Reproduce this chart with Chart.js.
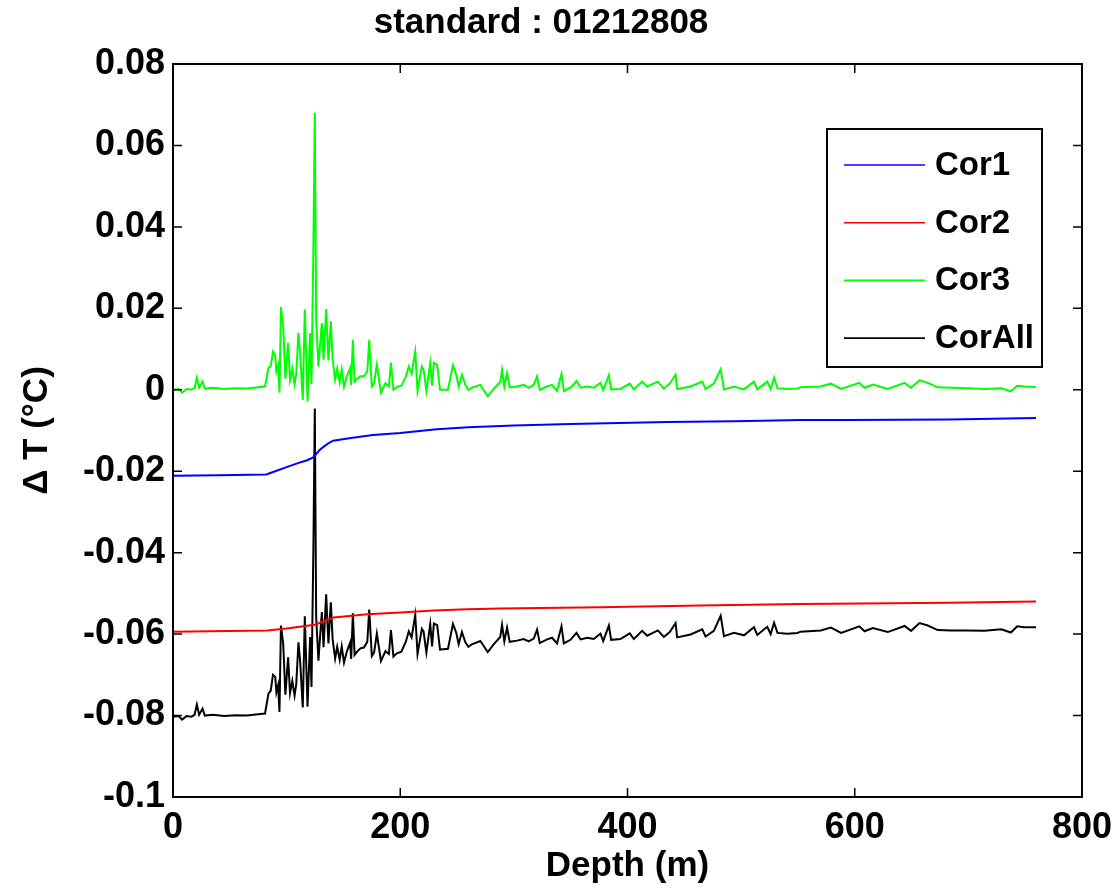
<!DOCTYPE html>
<html>
<head>
<meta charset="utf-8">
<script src="https://cdn.jsdelivr.net/npm/chart.js@4.4.1/dist/chart.umd.min.js"></script>
<style>
  body { margin: 0; background: #fff; }
</style>
</head>
<body>
<canvas id="myChart" width="1112" height="888"></canvas>
<script>
// depth (m) for the noisy series
var depthNoisy = [0, 5, 8, 12, 16, 19, 21, 23, 26, 28,
    35, 45, 55, 65, 75, 81, 84, 86, 88, 90,
    91, 92.5, 93.7, 95, 97, 98.9, 101.3, 103, 105, 107,
    108.5, 110.4, 111.9, 114.2, 116, 118.4, 120.7, 121.9, 123.6, 124.8,
    126, 128, 129.5, 131, 132.5, 134.8, 136.8, 138.9, 140.5, 142.7,
    144.5, 146.7, 148.5, 150.5, 153, 155.9, 156.8, 158.3, 159.8, 162,
    165, 168, 171, 172.7, 175, 177, 179.4, 183, 187, 190,
    191.8, 194, 197, 201, 205, 207.5, 210, 213.2, 215.2, 219,
    220.5, 223, 226.4, 228, 229.6, 232.5, 235, 238, 242, 246.4,
    249.3, 251.4, 254.3, 257.3, 260, 263, 270.5, 277, 282.2, 288,
    289.6, 291.6, 294, 296.3, 302.8, 308.7, 313, 317.5, 320.4, 322.8,
    329.2, 333.6, 338, 341.9, 344, 349.8, 355.1, 358.7, 364.5, 370.3,
    376.2, 378.6, 383.6, 385.6, 393.8, 402, 405.6, 412.9, 417.3, 426.7,
    432, 437.2, 442.3, 443.7, 455.5, 465.8, 468.7, 476, 482, 484.9,
    493.7, 502.5, 511.3, 514.2, 523, 526, 529, 532, 540.7, 549.5,
    552.4, 570, 579, 588, 604, 608.6, 616, 629, 643.8, 649.6,
    657, 664.3, 673, 685, 699.6, 714, 729, 737.4, 743, 749,
    759.5];

var cor3 = [0.0000, 0.0002, -0.0007, 0.0002, 0.0000, 0.0005, 0.0030, 0.0005, 0.0020, 0.0003,
    0.0005, 0.0002, 0.0004, 0.0003, 0.0006, 0.0008, 0.0054, 0.0058, 0.0094, 0.0085,
    0.0045, 0.0060, -0.0007, 0.0203, 0.0156, 0.0027, 0.0115, 0.0025, 0.0052, 0.0013,
    0.0040, 0.0140, 0.0091, -0.0025, 0.0197, -0.0029, 0.0139, 0.0014, 0.0360, 0.0680,
    0.0172, 0.0057, 0.0112, 0.0164, 0.0074, 0.0198, 0.0072, 0.0168, 0.0074, 0.0025,
    0.0052, 0.0018, 0.0050, 0.0008, 0.0033, 0.0053, 0.0012, 0.0123, 0.0020, 0.0027,
    0.0033, 0.0033, 0.0045, 0.0123, 0.0008, 0.0016, 0.0061, -0.0007, 0.0016, 0.0008,
    0.0066, 0.0000, 0.0007, 0.0010, 0.0033, 0.0057, 0.0040, 0.0094, -0.0003, 0.0057,
    0.0050, -0.0003, 0.0066, 0.0010, 0.0066, 0.0061, 0.0000, 0.0000, 0.0000, 0.0060,
    0.0037, 0.0008, 0.0037, 0.0012, 0.0000, 0.0005, 0.0012, -0.0016, 0.0002, 0.0019,
    0.0049, 0.0008, 0.0041, 0.0006, 0.0008, 0.0012, 0.0005, 0.0012, 0.0033, 0.0000,
    0.0008, 0.0012, -0.0003, 0.0039, -0.0003, 0.0005, 0.0021, 0.0005, 0.0008, 0.0005,
    0.0017, -0.0001, 0.0036, 0.0001, 0.0002, 0.0015, 0.0001, 0.0020, 0.0008, 0.0020,
    0.0003, 0.0015, 0.0037, 0.0002, 0.0008, 0.0020, 0.0002, 0.0015, 0.0051, 0.0001,
    0.0008, 0.0001, 0.0020, 0.0001, 0.0020, 0.0002, 0.0030, 0.0004, 0.0002, 0.0003,
    0.0006, 0.0008, 0.0015, 0.0002, 0.0017, 0.0005, 0.0013, 0.0002, 0.0017, 0.0005,
    0.0023, 0.0017, 0.0006, 0.0005, 0.0004, 0.0002, 0.0004, -0.0004, 0.0010, 0.0008,
    0.0007];

var corAll = [-0.0803, -0.0801, -0.0810, -0.0801, -0.0803, -0.0798, -0.0773, -0.0798, -0.0783, -0.0800,
    -0.0798, -0.0801, -0.0799, -0.0800, -0.0797, -0.0795, -0.0746, -0.0739, -0.0700, -0.0705,
    -0.0743, -0.0726, -0.0791, -0.0579, -0.0623, -0.0749, -0.0657, -0.0745, -0.0715, -0.0751,
    -0.0722, -0.0620, -0.0667, -0.0780, -0.0556, -0.0778, -0.0607, -0.0730, -0.0378, -0.0046,
    -0.0558, -0.0665, -0.0603, -0.0546, -0.0632, -0.0502, -0.0623, -0.0522, -0.0613, -0.0660,
    -0.0631, -0.0663, -0.0630, -0.0670, -0.0643, -0.0621, -0.0661, -0.0549, -0.0651, -0.0643,
    -0.0635, -0.0633, -0.0619, -0.0540, -0.0654, -0.0645, -0.0599, -0.0666, -0.0642, -0.0649,
    -0.0590, -0.0655, -0.0647, -0.0643, -0.0618, -0.0593, -0.0608, -0.0553, -0.0649, -0.0587,
    -0.0593, -0.0645, -0.0575, -0.0630, -0.0574, -0.0578, -0.0638, -0.0637, -0.0636, -0.0575,
    -0.0597, -0.0625, -0.0595, -0.0620, -0.0631, -0.0625, -0.0617, -0.0644, -0.0625, -0.0607,
    -0.0577, -0.0618, -0.0584, -0.0619, -0.0616, -0.0612, -0.0618, -0.0611, -0.0589, -0.0622,
    -0.0613, -0.0609, -0.0623, -0.0581, -0.0623, -0.0614, -0.0597, -0.0613, -0.0609, -0.0612,
    -0.0599, -0.0617, -0.0579, -0.0614, -0.0612, -0.0598, -0.0612, -0.0592, -0.0604, -0.0591,
    -0.0607, -0.0595, -0.0573, -0.0608, -0.0601, -0.0588, -0.0606, -0.0592, -0.0555, -0.0605,
    -0.0597, -0.0603, -0.0583, -0.0602, -0.0582, -0.0600, -0.0572, -0.0597, -0.0599, -0.0597,
    -0.0594, -0.0591, -0.0584, -0.0597, -0.0581, -0.0593, -0.0585, -0.0595, -0.0580, -0.0592,
    -0.0573, -0.0579, -0.0590, -0.0591, -0.0591, -0.0592, -0.0588, -0.0596, -0.0581, -0.0583,
    -0.0583];

// smooth series
var depthCor1 = [0, 40, 82, 90, 100, 110, 118, 123, 126, 129, 133, 137, 141, 155, 176, 200, 232, 260, 300, 350, 435, 494, 552, 595, 683, 759.5];
var cor1 = [-0.0211, -0.0210, -0.0208, -0.0200, -0.0190, -0.0180, -0.0173, -0.0167, -0.0158, -0.0148, -0.0139, -0.0131, -0.0125, -0.0119, -0.0111, -0.0106, -0.0097, -0.0092, -0.0088, -0.0084, -0.0079, -0.0077, -0.0074, -0.0074, -0.0073, -0.0069];

var depthCor2 = [0, 83, 100, 124.8, 141.5, 171, 200, 229.6, 259, 288, 376, 464, 552, 684, 759.5];
var cor2 = [-0.0594, -0.0591, -0.0586, -0.0577, -0.0559, -0.0551, -0.0547, -0.0542, -0.0539, -0.0537, -0.0534, -0.0530, -0.0526, -0.0523, -0.0520];

var xTicks = [0, 200, 400, 600, 800];
var xTickLabels = ['0', '200', '400', '600', '800'];
var yTicks = [-0.1, -0.08, -0.06, -0.04, -0.02, 0, 0.02, 0.04, 0.06, 0.08];
var yTickLabels = ['-0.1', '-0.08', '-0.06', '-0.04', '-0.02', '0', '0.02', '0.04', '0.06', '0.08'];

function pairs(xs, ys) {
    return xs.map(function (d, i) { return { x: d, y: ys[i] }; });
}

var FONT = 'Liberation Sans, Arial, Helvetica, sans-serif';

// box, inward ticks and legend like matlab
var matlabBox = {
    id: 'matlabBox',
    afterDatasetsDraw: function (chart) {
        var ctx = chart.ctx, a = chart.chartArea;
        var x = chart.scales.x, y = chart.scales.y;
        ctx.save();
        ctx.strokeStyle = '#000';
        ctx.lineWidth = 1.5;
        ctx.beginPath();
        x.ticks.forEach(function (t) {
            var px = x.getPixelForValue(t.value);
            ctx.moveTo(px, a.bottom); ctx.lineTo(px, a.bottom - 9);
            ctx.moveTo(px, a.top); ctx.lineTo(px, a.top + 9);
        });
        y.ticks.forEach(function (t) {
            var py = y.getPixelForValue(t.value);
            ctx.moveTo(a.left, py); ctx.lineTo(a.left + 9, py);
            ctx.moveTo(a.right, py); ctx.lineTo(a.right - 9, py);
        });
        ctx.stroke();
        ctx.lineWidth = 2;
        ctx.strokeRect(a.left, a.top, a.right - a.left, a.bottom - a.top);

        // legend
        var lx = a.right - 255, ly = a.top + 65, lw = 215, lh = 238;
        ctx.fillStyle = '#fff';
        ctx.fillRect(lx, ly, lw, lh);
        ctx.strokeRect(lx, ly, lw, lh);
        ctx.font = 'bold 33px ' + FONT;
        ctx.textBaseline = 'middle';
        chart.data.datasets.forEach(function (ds, i) {
            var yy = ly + 36 + i * 57.7;
            ctx.strokeStyle = ds.borderColor;
            ctx.lineWidth = 1.6;
            ctx.beginPath();
            ctx.moveTo(lx + 17, yy);
            ctx.lineTo(lx + 98, yy);
            ctx.stroke();
            ctx.fillStyle = '#000';
            ctx.fillText(ds.label, lx + 108, yy + 1);
        });
        ctx.restore();
    }
};

var ctx = document.getElementById('myChart').getContext('2d');
var myChart = new Chart(ctx, {
    type: 'line',
    data: {
        datasets: [
            { label: 'Cor1', data: pairs(depthCor1, cor1), borderColor: '#0000ff' },
            { label: 'Cor2', data: pairs(depthCor2, cor2), borderColor: '#ff0000' },
            { label: 'Cor3', data: pairs(depthNoisy, cor3), borderColor: '#00ff00' },
            { label: 'CorAll', data: pairs(depthNoisy, corAll), borderColor: '#000000' }
        ]
    },
    options: {
        responsive: false,
        animation: false,
        layout: { padding: { left: 0, right: 30, top: 0, bottom: 0 } },
        elements: {
            point: { radius: 0 },
            line: { borderWidth: 2, tension: 0 }
        },
        plugins: {
            legend: { display: false },
            tooltip: { enabled: false },
            title: {
                display: true,
                text: 'standard : 01212808',
                color: '#000',
                font: { family: FONT, size: 35, weight: 'bold' },
                padding: { top: 2, bottom: 20 }
            }
        },
        scales: {
            x: {
                type: 'linear',
                min: 0,
                max: 800,
                afterBuildTicks: function (s) { s.ticks = xTicks.map(function (v) { return { value: v }; }); },
                afterFit: function (s) { s.height = 91; s.paddingLeft = 0; s.paddingRight = 0; },
                grid: { display: false, drawTicks: false },
                border: { display: false },
                ticks: {
                    color: '#000',
                    padding: 9,
                    maxRotation: 0,
                    font: { family: FONT, size: 36, weight: 'bold' },
                    callback: function (v, i) { return xTickLabels[i]; }
                },
                title: {
                    display: true,
                    text: 'Depth (m)',
                    color: '#000',
                    font: { family: FONT, size: 35, weight: 'bold' },
                    padding: { top: 0, bottom: 1 }
                }
            },
            y: {
                type: 'linear',
                min: -0.1,
                max: 0.08,
                afterBuildTicks: function (s) { s.ticks = yTicks.map(function (v) { return { value: v }; }); },
                afterFit: function (s) { s.width = 173; s.paddingTop = 0; s.paddingBottom = 0; },
                grid: { display: false, drawTicks: false },
                border: { display: false },
                ticks: {
                    color: '#000',
                    padding: 8,
                    font: { family: FONT, size: 36, weight: 'bold' },
                    callback: function (v, i) { return yTickLabels[i]; }
                },
                title: {
                    display: true,
                    text: 'Δ T (°C)',
                    color: '#000',
                    font: { family: FONT, size: 35, weight: 'bold' },
                    padding: { top: 16, bottom: 0 }
                }
            }
        }
    },
    plugins: [matlabBox]
});
</script>
</body>
</html>
